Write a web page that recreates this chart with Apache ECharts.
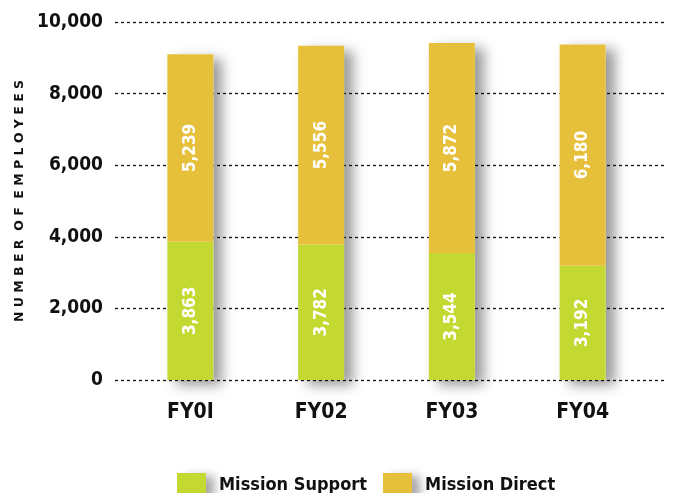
<!DOCTYPE html>
<html>
<head>
<meta charset="utf-8">
<script src="https://cdn.jsdelivr.net/npm/echarts@6/dist/echarts.min.js"></script>
<style>
  html, body { margin: 0; padding: 0; background: #fff; }
  #chart { width: 675px; height: 493px; }
</style>
</head>
<body>
<div id="chart"></div>
<script>
// Workforce by fiscal year, split into support and direct mission staff
const categories = ['FY0I', 'FY02', 'FY03', 'FY04'];
const missionSupport = [3863, 3782, 3544, 3192];
const missionDirect = [5239, 5556, 5872, 6180];
const yTicks = [0, 2000, 4000, 6000, 8000, 10000];

// column totals, used only for the drop shadow behind each stack
const totals = missionSupport.map((v, i) => v + missionDirect[i]);

const FONT = '"Liberation Sans Narrow", "DejaVu Sans Condensed", "Roboto", sans-serif';
const GREEN = '#c3d932';
const GOLD = '#e6c03a';

const chart = echarts.init(document.getElementById('chart'), null, { renderer: 'canvas' });

const fmt = v => v.toLocaleString('en-US');

const barLabel = {
  show: true,
  position: 'inside',
  rotate: 90,
  color: '#ffffff',
  fontFamily: FONT,
  fontWeight: 'bold',
  fontSize: 17,
  formatter: p => fmt(p.value)
};

chart.setOption({
  animation: false,
  backgroundColor: '#ffffff',
  grid: [
    // full-width grid carrying the dotted value lines and tick labels
    { left: 115, right: 10, top: 22, bottom: 113 },
    // narrower grid holding the bars
    { left: 125, width: 523, top: 22, bottom: 113 }
  ],
  legend: {
    top: 468,
    left: 172,
    icon: 'rect',
    itemWidth: 29,
    itemHeight: 24,
    itemGap: 16,
    textStyle: {
      fontFamily: FONT,
      fontWeight: 'bold',
      fontSize: 18,
      color: '#111',
      padding: [0, 0, 0, 8]
    },
    itemStyle: {
      shadowBlur: 10,
      shadowOffsetX: 8,
      shadowOffsetY: 3,
      shadowColor: 'rgba(0,0,0,0.35)'
    },
    data: ['Mission Support', 'Mission Direct']
  },
  xAxis: [
    {
      gridIndex: 0,
      type: 'category',
      data: categories,
      show: false
    },
    {
      gridIndex: 1,
      type: 'category',
      data: categories,
      axisLine: { show: false },
      axisTick: { show: false },
      axisLabel: {
        margin: 22,
        color: '#111',
        fontFamily: FONT,
        fontWeight: 'bold',
        fontSize: 21
      }
    }
  ],
  yAxis: [
    {
      gridIndex: 0,
      type: 'value',
      min: 0,
      max: 10000,
      interval: 2000,
      name: 'N U M B E R  O F  E M P L O Y E E S',
      nameLocation: 'middle',
      nameGap: 84,
      nameRotate: 90,
      nameTextStyle: {
        color: '#111',
        fontFamily: 'DejaVu Sans',
        fontWeight: 'bold',
        fontSize: 12.5,
        padding: [0, 0, 0, 0]
      },
      axisLine: { show: false },
      axisTick: { show: false },
      axisLabel: {
        margin: 12,
        color: '#111',
        fontFamily: FONT,
        fontWeight: 'bold',
        fontSize: 19,
        formatter: v => yTicks.includes(v) ? fmt(v) : ''
      },
      splitLine: {
        show: true,
        lineStyle: { color: '#111', type: [3, 3], width: 1.3 }
      }
    },
    {
      gridIndex: 1,
      type: 'value',
      min: 0,
      max: 10000,
      interval: 2000,
      show: false,
      splitLine: { show: false }
    }
  ],
  series: [
    {
      name: 'Mission Support',
      type: 'bar',
      stack: 'staff',
      xAxisIndex: 1,
      yAxisIndex: 1,
      barWidth: 46,
      z: 3,
      data: missionSupport,
      itemStyle: { color: GREEN },
      label: barLabel
    },
    {
      name: 'Mission Direct',
      type: 'bar',
      stack: 'staff',
      xAxisIndex: 1,
      yAxisIndex: 1,
      barWidth: 46,
      z: 3,
      data: missionDirect,
      itemStyle: { color: GOLD },
      label: barLabel
    },
    {
      // soft shadow cast by each full column
      name: 'shadow',
      type: 'bar',
      xAxisIndex: 1,
      yAxisIndex: 1,
      barWidth: 46,
      barGap: '-100%',
      z: 1,
      silent: true,
      data: totals,
      itemStyle: {
        color: '#ffffff',
        shadowBlur: 12,
        shadowOffsetX: 9,
        shadowOffsetY: 5,
        shadowColor: 'rgba(0,0,0,0.4)'
      },
      label: { show: false },
      tooltip: { show: false }
    }
  ]
});
</script>
</body>
</html>
